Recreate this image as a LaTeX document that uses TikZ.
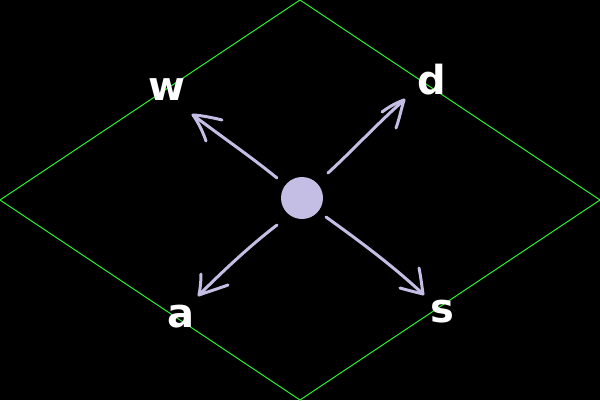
\documentclass[tikz,border=0pt]{standalone}
\usepackage{fontspec}
\setmainfont{DejaVu Sans}
\begin{document}
\begin{tikzpicture}[x=1pt,y=-1pt,
  arr/.style={draw=lav,line width=3pt,line cap=round,line join=round},
  lbl/.style={text=white,font=\bfseries\fontsize{40}{40}\selectfont,inner sep=0pt}]
\definecolor{lav}{RGB}{196,190,228}
\definecolor{grn}{RGB}{40,230,40}
\fill[black] (0,0) rectangle (600,400);
\useasboundingbox (0,0) rectangle (600,400);
% rhombus
\coordinate (T) at (300,0);
\coordinate (R) at (600,200);
\coordinate (B) at (300,400);
\coordinate (L) at (0,200);
\draw[grn,line width=1pt] (T) -- (R) -- (B) -- (L) -- cycle;
% center
\node[circle,fill=lav,minimum size=42pt,inner sep=0pt] (c) at (302,198) {};
% labels
\node[lbl] (w) at (167,90) {w};
\node[lbl] (d) at (432,80) {d};
\node[lbl] (a) at (181,317) {a};
\node[lbl] (s) at (442,312) {s};
% arrow NW
\coordinate (nw0) at (277,178);
\coordinate (nw1) at (193,115);
\coordinate (nwa) at (222,120);
\coordinate (nwb) at (206,141);
\draw[arr] (nw0) .. controls (250,156) and (222,137) .. (nw1);
\draw[arr] (nwa) .. controls (210,117) and (198,115) .. (nw1) .. controls (198,122) and (203,132) .. (nwb);
% arrow NE
\coordinate (ne0) at (328,173);
\coordinate (ne1) at (404,100);
\coordinate (nea) at (382,112);
\coordinate (neb) at (396,128);
\draw[arr] (ne0) .. controls (352,151) and (378,123) .. (ne1);
\draw[arr] (nea) .. controls (390,106) and (398,102) .. (ne1) .. controls (401,110) and (399,120) .. (neb);
% arrow SW
\coordinate (sw0) at (277,225);
\coordinate (sw1) at (199,295);
\coordinate (swa) at (201,274);
\coordinate (swb) at (228,285);
\draw[arr] (sw0) .. controls (252,244) and (224,270) .. (sw1);
\draw[arr] (swa) .. controls (201,282) and (200,290) .. (sw1) .. controls (210,291) and (220,288) .. (swb);
% arrow SE
\coordinate (se0) at (326,217);
\coordinate (se1) at (423,294);
\coordinate (sea) at (419,268);
\coordinate (seb) at (400,288);
\draw[arr] (se0) .. controls (358,240) and (392,265) .. (se1);
\draw[arr] (sea) .. controls (421,278) and (422,287) .. (se1) .. controls (415,292) and (407,290) .. (seb);
\end{tikzpicture}
\end{document}
